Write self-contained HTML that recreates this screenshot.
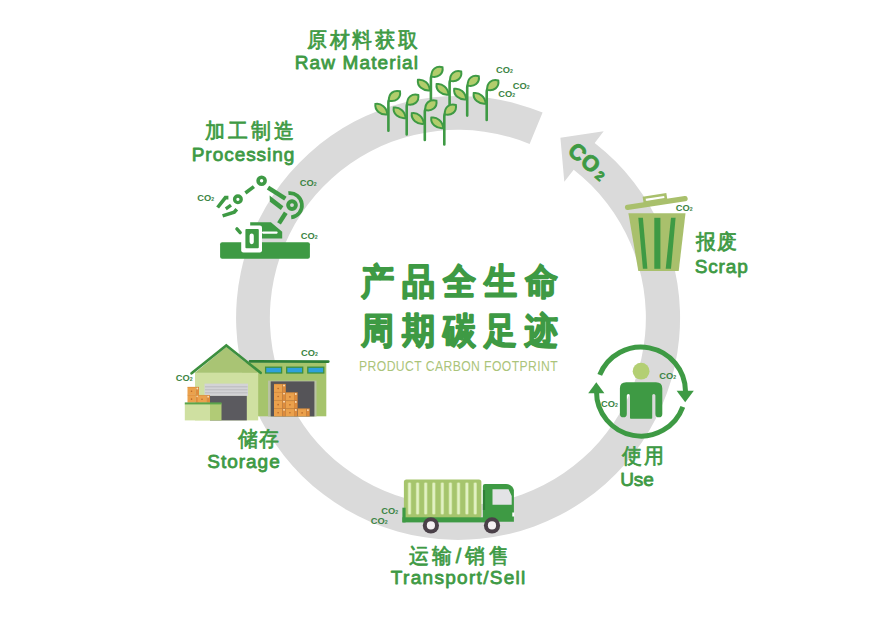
<!DOCTYPE html>
<html><head><meta charset="utf-8">
<style>
html,body{margin:0;padding:0;background:#fff;width:880px;height:624px;overflow:hidden}
svg{display:block}
text{font-family:"Liberation Sans",sans-serif}
.t{font-weight:bold;fill:#3e9a44}
.co{font-weight:bold;fill:#3b8444;font-size:9.3px;letter-spacing:0px}
.lf{fill:#b2cd6c;stroke:#3e9a44;stroke-width:2}
.st{stroke:#3e9a44;stroke-width:2.6;fill:none;stroke-linecap:round}
</style></head>
<body>
<svg width="880" height="624" viewBox="0 0 880 624">
<defs>
 <g id="plant">
  <path class="st" d="M0 0 V-28 Q0 -31 2 -32"/>
  <path class="lf" d="M0.5 -30 C0 -37.5 5.5 -41 11.6 -39.4 C12.8 -32.5 7 -28.4 0.5 -30 Z"/>
  <path class="lf" d="M-1 -16.2 C-1.6 -23.2 -7.2 -27.8 -13 -26.8 C-14 -20.4 -7.8 -15.4 -1 -16.2 Z"/>
 </g>
</defs>

<!-- ring -->
<path fill="#dadada" d="M542.6 112.6 A222 222 0 1 0 594.7 142.9 L603.7 131.3 L560.4 137.7 L564.3 181.7 L573.7 169.7 A188 188 0 1 1 529.6 144.0 Z"/>

<!-- CO2 on arrow -->
<g transform="translate(588.5,161.5) rotate(40)">
 <text x="0" y="7.5" text-anchor="middle" font-weight="bold" font-size="22" letter-spacing="0.8" fill="#3e9a44" stroke="#3e9a44" stroke-width="0.9">CO<tspan font-size="13" dy="0.6" dx="2.2">2</tspan></text>
</g>

<!-- plants -->
<use href="#plant" x="430.9" y="106.6"/>
<use href="#plant" x="449.6" y="110.9"/>
<use href="#plant" x="467.2" y="115.6"/>
<use href="#plant" x="486.7" y="119.9"/>
<use href="#plant" x="388.4" y="130.7"/>
<use href="#plant" x="406.7" y="134.4"/>
<use href="#plant" x="424.8" y="140"/>
<use href="#plant" x="444.3" y="144.4"/>


<!-- processing robot -->
<g fill="#3e9a44">
 <rect x="220.1" y="242.3" width="89.8" height="16.4" rx="2"/>
 <polygon points="250.2,222.2 270.9,222.2 282.2,231.8 282.2,238.5 258,238.5 258,228 250.2,228"/>
 <rect x="241.2" y="225.4" width="20.8" height="27" rx="2.2" fill="#fff"/>
 <rect x="245.4" y="229" width="13.4" height="19.2" rx="1"/>
 <rect x="249.6" y="233.6" width="4.2" height="10.6" rx="2.1" fill="#fff"/>
 <polygon points="269.6,195.6 269.9,201.8 280.8,210 283.4,206.2"/>
</g>
<g fill="none" stroke="#3e9a44">
 <line x1="263" y1="232.6" x2="276.6" y2="232.6" stroke="#fff" stroke-width="2.2" stroke-linecap="round"/>
 <line x1="236.9" y1="228.9" x2="240.2" y2="232.6" stroke-width="3.4" stroke-linecap="round"/>
 <circle cx="261.6" cy="180.8" r="3.5" stroke-width="3.6"/>
 <circle cx="237.9" cy="199.3" r="3.3" stroke-width="3.4"/>
 <circle cx="292" cy="205.1" r="3.9" stroke-width="3.9"/>
 <path d="M288.4 193.2 A12.1 12.1 0 1 1 291.2 217.3" stroke-width="3.7"/>
 <line x1="268" y1="187.6" x2="285.4" y2="198.6" stroke-width="4.4"/>
 <line x1="285.8" y1="212.8" x2="279" y2="223.4" stroke-width="4.4"/>
 <line x1="245.4" y1="193" x2="253.9" y2="186.6" stroke-width="3.6"/>
 <polyline points="217.6,207.5 225.4,197.6 228.4,197.6" stroke-width="3.6"/>
 <line x1="225.8" y1="208.8" x2="231" y2="205.2" stroke-width="3.4"/>
 <polyline points="222.6,215.9 234.2,212.2 236.8,209.2" stroke-width="3.6"/>
</g>

<!-- warehouse right building -->
<rect x="242" y="362.5" width="84.3" height="53.8" fill="#a6c46c"/>
<line x1="250" y1="361.3" x2="328.3" y2="361.6" stroke="#2f7f36" stroke-width="2.7" stroke-linecap="round"/>
<g fill="#2fa1dc" stroke="#3e8f3e" stroke-width="1.3">
 <rect x="265.6" y="367.2" width="16" height="5.8"/>
 <rect x="286.7" y="367.2" width="16" height="5.8"/>
 <rect x="307.8" y="367.2" width="16" height="5.8"/>
</g>
<rect x="268" y="380.6" width="48.5" height="35.8" fill="#b9c2a4"/>
<rect x="270.7" y="381.4" width="43.7" height="35" fill="#555458"/>
<rect x="274.00" y="384.00" width="8.26" height="8.10" fill="#eba14c"/>
<rect x="282.26" y="384.00" width="3.54" height="8.10" fill="#de8c3c"/>
<line x1="274.00" y1="384.25" x2="285.80" y2="384.25" stroke="#d08032" stroke-width="0.5"/>
<circle cx="284.03" cy="385.50" r="0.9" fill="#fbe3c0"/>
<circle cx="278.13" cy="388.45" r="0.8" fill="#b8682a"/>
<rect x="274.00" y="392.10" width="8.26" height="8.10" fill="#eba14c"/>
<rect x="282.26" y="392.10" width="3.54" height="8.10" fill="#de8c3c"/>
<line x1="274.00" y1="392.35" x2="285.80" y2="392.35" stroke="#d08032" stroke-width="0.5"/>
<circle cx="284.03" cy="393.60" r="0.9" fill="#fbe3c0"/>
<circle cx="278.13" cy="396.56" r="0.8" fill="#b8682a"/>
<rect x="274.00" y="400.20" width="8.26" height="8.10" fill="#eba14c"/>
<rect x="282.26" y="400.20" width="3.54" height="8.10" fill="#de8c3c"/>
<line x1="274.00" y1="400.45" x2="285.80" y2="400.45" stroke="#d08032" stroke-width="0.5"/>
<circle cx="284.03" cy="401.70" r="0.9" fill="#fbe3c0"/>
<circle cx="278.13" cy="404.65" r="0.8" fill="#b8682a"/>
<rect x="274.00" y="408.30" width="8.26" height="8.10" fill="#eba14c"/>
<rect x="282.26" y="408.30" width="3.54" height="8.10" fill="#de8c3c"/>
<line x1="274.00" y1="408.55" x2="285.80" y2="408.55" stroke="#d08032" stroke-width="0.5"/>
<circle cx="284.03" cy="409.80" r="0.9" fill="#fbe3c0"/>
<circle cx="278.13" cy="412.75" r="0.8" fill="#b8682a"/>
<rect x="285.80" y="392.50" width="8.26" height="7.97" fill="#eba14c"/>
<rect x="294.06" y="392.50" width="3.54" height="7.97" fill="#de8c3c"/>
<line x1="285.80" y1="392.75" x2="297.60" y2="392.75" stroke="#d08032" stroke-width="0.5"/>
<circle cx="295.83" cy="394.00" r="0.9" fill="#fbe3c0"/>
<circle cx="289.93" cy="396.88" r="0.8" fill="#b8682a"/>
<rect x="285.80" y="400.47" width="8.26" height="7.97" fill="#eba14c"/>
<rect x="294.06" y="400.47" width="3.54" height="7.97" fill="#de8c3c"/>
<line x1="285.80" y1="400.72" x2="297.60" y2="400.72" stroke="#d08032" stroke-width="0.5"/>
<circle cx="295.83" cy="401.97" r="0.9" fill="#fbe3c0"/>
<circle cx="289.93" cy="404.85" r="0.8" fill="#b8682a"/>
<rect x="285.80" y="408.43" width="8.26" height="7.97" fill="#eba14c"/>
<rect x="294.06" y="408.43" width="3.54" height="7.97" fill="#de8c3c"/>
<line x1="285.80" y1="408.68" x2="297.60" y2="408.68" stroke="#d08032" stroke-width="0.5"/>
<circle cx="295.83" cy="409.93" r="0.9" fill="#fbe3c0"/>
<circle cx="289.93" cy="412.81" r="0.8" fill="#b8682a"/>
<rect x="298.00" y="408.60" width="8.19" height="7.80" fill="#eba14c"/>
<rect x="306.19" y="408.60" width="3.51" height="7.80" fill="#de8c3c"/>
<line x1="298.00" y1="408.85" x2="309.70" y2="408.85" stroke="#d08032" stroke-width="0.5"/>
<circle cx="307.94" cy="410.10" r="0.9" fill="#fbe3c0"/>
<circle cx="302.09" cy="412.89" r="0.8" fill="#b8682a"/>

<!-- warehouse left building -->
<rect x="195" y="372.2" width="63.2" height="48.2" fill="#cfe0a1"/>
<polygon points="195,372.7 226.3,347 258,372.7" fill="#a9c474"/>
<polyline points="191.6,373.3 226.3,345.5 260.6,372.8" fill="none" stroke="#3c8f3e" stroke-width="2.7" stroke-linecap="round" stroke-linejoin="miter"/>
<rect x="204.5" y="383.6" width="43.5" height="12.3" fill="#d3d3d6"/>
<g stroke="#b5b5b8" stroke-width="0.8">
 <line x1="205" y1="386.8" x2="247.5" y2="386.8"/>
 <line x1="205" y1="389.8" x2="247.5" y2="389.8"/>
 <line x1="205" y1="392.8" x2="247.5" y2="392.8"/>
</g>
<rect x="210" y="395.9" width="36.8" height="24.5" fill="#5b5a5f"/>
<rect x="187.50" y="387.00" width="8.05" height="7.85" fill="#eba14c"/>
<rect x="195.55" y="387.00" width="3.45" height="7.85" fill="#de8c3c"/>
<line x1="187.50" y1="387.25" x2="199.00" y2="387.25" stroke="#d08032" stroke-width="0.5"/>
<circle cx="197.28" cy="388.50" r="0.9" fill="#fbe3c0"/>
<circle cx="191.53" cy="391.32" r="0.8" fill="#b8682a"/>
<rect x="187.50" y="394.85" width="8.05" height="7.85" fill="#eba14c"/>
<rect x="195.55" y="394.85" width="3.45" height="7.85" fill="#de8c3c"/>
<line x1="187.50" y1="395.10" x2="199.00" y2="395.10" stroke="#d08032" stroke-width="0.5"/>
<circle cx="197.28" cy="396.35" r="0.9" fill="#fbe3c0"/>
<circle cx="191.53" cy="399.17" r="0.8" fill="#b8682a"/>
<rect x="197.70" y="395.20" width="8.61" height="7.50" fill="#eba14c"/>
<rect x="206.31" y="395.20" width="3.69" height="7.50" fill="#de8c3c"/>
<line x1="197.70" y1="395.45" x2="210.00" y2="395.45" stroke="#d08032" stroke-width="0.5"/>
<circle cx="208.16" cy="396.70" r="0.9" fill="#fbe3c0"/>
<circle cx="202.00" cy="399.32" r="0.8" fill="#b8682a"/>
<rect x="184.8" y="403.4" width="25.2" height="17" fill="#cfe0a1"/>
<rect x="210" y="403.4" width="11.5" height="17" fill="#b1cb76"/>
<rect x="184.8" y="402.4" width="36.7" height="2" fill="#5aa54b"/>

<!-- trash can -->
<polygon points="628.4,213.2 685.5,213.2 678.7,271.1 638.3,271.1" fill="#a9c06c"/>
<g fill="#3e9a44">
 <polygon points="638.3,217.8 642.9,217.8 647.4,268.8 642.9,268.8"/>
 <polygon points="654.3,217.8 660.4,217.8 660.4,268.8 654.3,268.8"/>
 <polygon points="671,217.8 675.6,217.8 671,268.8 665.7,268.8"/>
</g>
<line x1="627.6" y1="207.4" x2="685" y2="198.6" stroke="#a9c06c" stroke-width="5.4" stroke-linecap="round"/>
<g transform="translate(655.5,200.8) rotate(-8.9)">
 <rect x="-10.8" y="-4.8" width="21.4" height="4.8" fill="none" stroke="#a9c06c" stroke-width="2.6"/>
</g>

<!-- use icon -->
<g fill="none" stroke="#3e9a44" stroke-width="5">
 <path d="M599.74 374.93 A44.5 44.5 0 0 1 685.50 391.21"/>
 <path d="M682.82 406.82 A44.5 44.5 0 0 1 596.50 391.21"/>
</g>
<g fill="#3e9a44">
 <polygon points="676.6,390.8 693.8,390.8 685.2,402.2"/>
 <polygon points="588.2,393.3 604.4,393.3 596.3,382.2"/>
</g>
<circle cx="641.1" cy="371.2" r="8.4" fill="#b3cf73"/>
<path fill="#3e9a44" d="M619.9 388.6 Q619.9 382.3 626.2 382.3 H656 Q662.3 382.3 662.3 388.6 V413.9 A3.45 3.45 0 0 1 655.4 413.9 V395.6 A1.6 1.6 0 0 0 652.2 395.6 V418 Q652.2 418.8 651.4 418.8 H630.8 Q630 418.8 630 418 V395.6 A1.6 1.6 0 0 0 626.8 395.6 V413.9 A3.45 3.45 0 0 1 619.9 413.9 Z"/>

<!-- truck -->
<rect x="403.9" y="479.6" width="77.5" height="38.4" rx="2.5" fill="#a6c56d"/>
<g>
 <rect x="407.70" y="482.4" width="3.6" height="32.2" rx="1" fill="#c6de96"/>
 <rect x="408.40" y="482.8" width="2.2" height="31.4" rx="1" fill="#e2f1c4"/>
 <rect x="415.80" y="482.4" width="3.6" height="32.2" rx="1" fill="#c6de96"/>
 <rect x="416.50" y="482.8" width="2.2" height="31.4" rx="1" fill="#e2f1c4"/>
 <rect x="423.90" y="482.4" width="3.6" height="32.2" rx="1" fill="#c6de96"/>
 <rect x="424.60" y="482.8" width="2.2" height="31.4" rx="1" fill="#e2f1c4"/>
 <rect x="432.00" y="482.4" width="3.6" height="32.2" rx="1" fill="#c6de96"/>
 <rect x="432.70" y="482.8" width="2.2" height="31.4" rx="1" fill="#e2f1c4"/>
 <rect x="440.50" y="482.4" width="3.6" height="32.2" rx="1" fill="#c6de96"/>
 <rect x="441.20" y="482.8" width="2.2" height="31.4" rx="1" fill="#e2f1c4"/>
 <rect x="448.60" y="482.4" width="3.6" height="32.2" rx="1" fill="#c6de96"/>
 <rect x="449.30" y="482.8" width="2.2" height="31.4" rx="1" fill="#e2f1c4"/>
 <rect x="456.70" y="482.4" width="3.6" height="32.2" rx="1" fill="#c6de96"/>
 <rect x="457.40" y="482.8" width="2.2" height="31.4" rx="1" fill="#e2f1c4"/>
 <rect x="465.10" y="482.4" width="3.6" height="32.2" rx="1" fill="#c6de96"/>
 <rect x="465.80" y="482.8" width="2.2" height="31.4" rx="1" fill="#e2f1c4"/>
 <rect x="473.40" y="482.4" width="3.6" height="32.2" rx="1" fill="#c6de96"/>
 <rect x="474.10" y="482.8" width="2.2" height="31.4" rx="1" fill="#e2f1c4"/>
</g>
<g fill="#3e9a44">
 <rect x="402.4" y="507.7" width="3.2" height="14.7"/>
 <rect x="402.4" y="517.3" width="82.7" height="5.1"/>
 <path d="M482.9 521.7 V486 Q482.9 484 485 484 H506 Q512 484 513.9 490 V521.7 Z"/>
</g>
<rect x="482.9" y="490" width="2.2" height="20" fill="#2f7f36"/>
<polygon points="492.5,489.2 508.5,489.2 511.7,496 511.7,504.7 492.5,504.7" fill="#e3e3e6"/>
<rect x="512.3" y="512.5" width="2" height="4" fill="#fff"/>
<g fill="#4a4048">
 <circle cx="430.9" cy="525.4" r="8.1"/>
 <circle cx="492" cy="525.4" r="8.1"/>
</g>
<g fill="#f4f0f2">
 <circle cx="430.9" cy="525.4" r="4.1"/>
 <circle cx="492" cy="525.4" r="4.1"/>
</g>

<!-- labels -->
<g transform="translate(306.80 0) scale(0.950 1)"><text class="t" x="0" y="47.08" font-size="20.80" letter-spacing="3.40" style="font-weight:normal;stroke:#3e9a44;stroke-width:0.75;stroke-linejoin:round;">原材料获取</text></g>
<text class="t" x="294.72" y="69.08" font-size="19.00" letter-spacing="1.13" style="font-weight:normal;stroke:#3e9a44;stroke-width:0.8;stroke-linejoin:round;">Raw Material</text>
<g transform="translate(205.24 0) scale(0.950 1)"><text class="t" x="0" y="138.08" font-size="20.80" letter-spacing="3.49" style="font-weight:normal;stroke:#3e9a44;stroke-width:0.75;stroke-linejoin:round;">加工制造</text></g>
<text class="t" x="191.72" y="160.70" font-size="19.00" letter-spacing="0.96" style="font-weight:normal;stroke:#3e9a44;stroke-width:0.8;stroke-linejoin:round;">Processing</text>
<g transform="translate(237.84 0) scale(0.950 1)"><text class="t" x="0" y="445.58" font-size="20.80" letter-spacing="1.76" style="font-weight:normal;stroke:#3e9a44;stroke-width:0.75;stroke-linejoin:round;">储存</text></g>
<text class="t" x="207.34" y="467.50" font-size="19.00" letter-spacing="0.97" style="font-weight:normal;stroke:#3e9a44;stroke-width:0.8;stroke-linejoin:round;">Storage</text>
<g transform="translate(408.88 0) scale(0.950 1)"><text class="t" x="0" y="562.56" font-size="20.80" letter-spacing="4.20" style="font-weight:normal;stroke:#3e9a44;stroke-width:0.75;stroke-linejoin:round;">运输/销售</text></g>
<text class="t" x="390.84" y="583.64" font-size="19.00" letter-spacing="1.30" style="font-weight:normal;stroke:#3e9a44;stroke-width:0.8;stroke-linejoin:round;">Transport/Sell</text>
<g transform="translate(621.84 0) scale(0.950 1)"><text class="t" x="0" y="463.44" font-size="20.80" letter-spacing="2.62" style="font-weight:normal;stroke:#3e9a44;stroke-width:0.75;stroke-linejoin:round;">使用</text></g>
<text class="t" x="620.20" y="486.25" font-size="19.00" letter-spacing="-0.06" style="font-weight:normal;stroke:#3e9a44;stroke-width:0.8;stroke-linejoin:round;">Use</text>
<g transform="translate(695.52 0) scale(0.950 1)"><text class="t" x="0" y="249.42" font-size="20.80" letter-spacing="2.46" style="font-weight:normal;stroke:#3e9a44;stroke-width:0.75;stroke-linejoin:round;">报废</text></g>
<text class="t" x="694.66" y="272.62" font-size="19.00" letter-spacing="0.88" style="font-weight:normal;stroke:#3e9a44;stroke-width:0.8;stroke-linejoin:round;">Scrap</text>
<g transform="translate(360.60 0) scale(0.920 1)"><text class="t" x="0" y="293.80" font-size="36.00" letter-spacing="8.20" style="font-weight:bold;stroke:#3e9a44;stroke-width:1.6;stroke-linejoin:round;">产品全生命</text></g>
<g transform="translate(360.60 0) scale(0.920 1)"><text class="t" x="0" y="342.80" font-size="36.00" letter-spacing="8.20" style="font-weight:bold;stroke:#3e9a44;stroke-width:1.6;stroke-linejoin:round;">周期碳足迹</text></g>
<g transform="translate(359.02 0) scale(0.840 1)"><text class="t" x="0" y="370.86" font-size="14.50" letter-spacing="0.50" style="font-weight:normal;fill:#abc47a;">PRODUCT CARBON FOOTPRINT</text></g>
<!-- CO2 small labels -->
<text class="co" x="496.09" y="72.76">CO<tspan font-size="5.2">2</tspan></text>
<text class="co" x="512.70" y="88.70">CO<tspan font-size="5.2">2</tspan></text>
<text class="co" x="498.30" y="97.45">CO<tspan font-size="5.2">2</tspan></text>
<text class="co" x="197.30" y="201.37">CO<tspan font-size="5.2">2</tspan></text>
<text class="co" x="299.76" y="186.45">CO<tspan font-size="5.2">2</tspan></text>
<text class="co" x="300.84" y="239.14">CO<tspan font-size="5.2">2</tspan></text>
<text class="co" x="175.76" y="380.53">CO<tspan font-size="5.2">2</tspan></text>
<text class="co" x="300.99" y="355.60">CO<tspan font-size="5.2">2</tspan></text>
<text class="co" x="381.22" y="513.99">CO<tspan font-size="5.2">2</tspan></text>
<text class="co" x="370.80" y="523.90">CO<tspan font-size="5.2">2</tspan></text>
<text class="co" x="659.30" y="378.52">CO<tspan font-size="5.2">2</tspan></text>
<text class="co" x="600.99" y="407.45">CO<tspan font-size="5.2">2</tspan></text>
<text class="co" x="675.84" y="211.22">CO<tspan font-size="5.2">2</tspan></text>
</svg>
</body></html>
